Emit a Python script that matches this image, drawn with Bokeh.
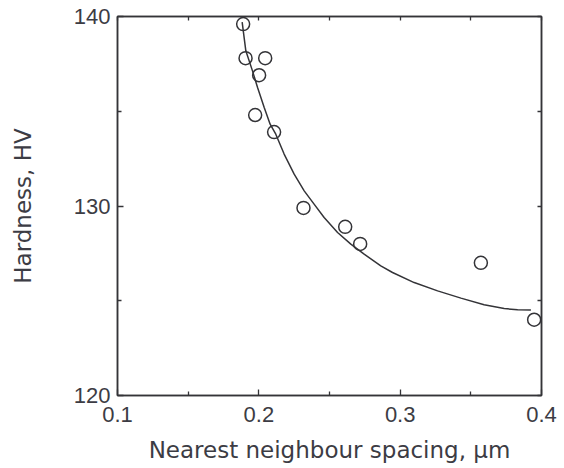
from bokeh.plotting import figure
from bokeh.models import LinearAxis, FixedTicker, Range1d
from bokeh.embed import file_html
from bokeh.resources import INLINE

# Measured hardness against nearest neighbour spacing
spacing_um = [0.1889, 0.1906, 0.2045, 0.2002, 0.1974, 0.2108,
              0.2316, 0.2611, 0.2717, 0.3571, 0.3948]
hardness_hv = [139.6, 137.8, 137.8, 136.9, 134.8, 133.9,
               129.9, 128.9, 128.0, 127.0, 124.0]

# Fitted trend curve (points along the drawn curve)
fit_spacing_um = [0.1882, 0.1908, 0.1955, 0.1991, 0.2038, 0.2080, 0.2120,
                  0.2179, 0.2250, 0.2321, 0.2391, 0.2462, 0.2557, 0.2651,
                  0.2745, 0.2863, 0.2946, 0.3099, 0.3265, 0.3430, 0.3594,
                  0.3736, 0.3831, 0.3925]
fit_hardness_hv = [139.7, 138.19, 137.13, 136.25, 135.20, 134.32, 133.79,
                   132.74, 131.68, 130.80, 130.10, 129.39, 128.60, 127.99,
                   127.46, 126.84, 126.49, 125.96, 125.52, 125.14, 124.79,
                   124.59, 124.52, 124.51]

x_major = [0.1, 0.2, 0.3, 0.4]
x_minor = [0.15, 0.25, 0.35]
y_major = [120, 130, 140]
y_minor = [125, 135]

INK = "#343438"
TEXT = "#3c3c44"

p = figure(width=564, height=468,
           x_range=Range1d(0.1, 0.4), y_range=Range1d(120, 140),
           output_backend="svg", toolbar_location=None,
           min_border_left=117, min_border_right=23,
           min_border_top=16, min_border_bottom=73,
           x_axis_label="Nearest neighbour spacing, μm",
           y_axis_label="Hardness, HV")
p.grid.visible = False
p.background_fill_color = "white"
p.border_fill_color = "white"
p.outline_line_color = INK
p.outline_line_width = 1.5

top_axis = LinearAxis()
right_axis = LinearAxis()
p.add_layout(top_axis, "above")
p.add_layout(right_axis, "right")

for ax in p.xaxis:
    ax.ticker = FixedTicker(ticks=x_major, minor_ticks=x_minor)
for ax in p.yaxis:
    ax.ticker = FixedTicker(ticks=y_major, minor_ticks=y_minor)

for ax in p.axis:
    ax.axis_line_color = INK
    ax.axis_line_width = 1.5
    ax.major_tick_line_color = INK
    ax.minor_tick_line_color = INK
    ax.major_tick_line_width = 1.3
    ax.minor_tick_line_width = 1.3
    ax.major_tick_in = 6
    ax.major_tick_out = 0
    ax.minor_tick_in = 4
    ax.minor_tick_out = 0
    ax.major_label_text_font = "Liberation Sans"
    ax.major_label_text_font_size = "22px"
    ax.major_label_text_color = TEXT
    ax.axis_label_text_font = "DejaVu Sans"
    ax.axis_label_text_font_size = "23px"
    ax.axis_label_text_font_style = "normal"
    ax.axis_label_text_color = TEXT

# frame ticks only on the top and right edges
for ax in (top_axis, right_axis):
    ax.major_tick_in = 4
    ax.major_label_text_color = None
    ax.major_label_text_alpha = 0
    ax.major_label_standoff = 0

bottom = p.below[0]
bottom.major_label_standoff = 11
bottom.axis_label_standoff = 12

left = p.left[0]
left.major_label_standoff = 7
left.axis_label_standoff = 35

p.line(fit_spacing_um, fit_hardness_hv, line_color=INK, line_width=1.5)
p.scatter(spacing_um, hardness_hv, marker="circle", size=13,
          fill_color=None, line_color=INK, line_width=1.5)

open("out.html", "w").write(file_html(p, INLINE))
